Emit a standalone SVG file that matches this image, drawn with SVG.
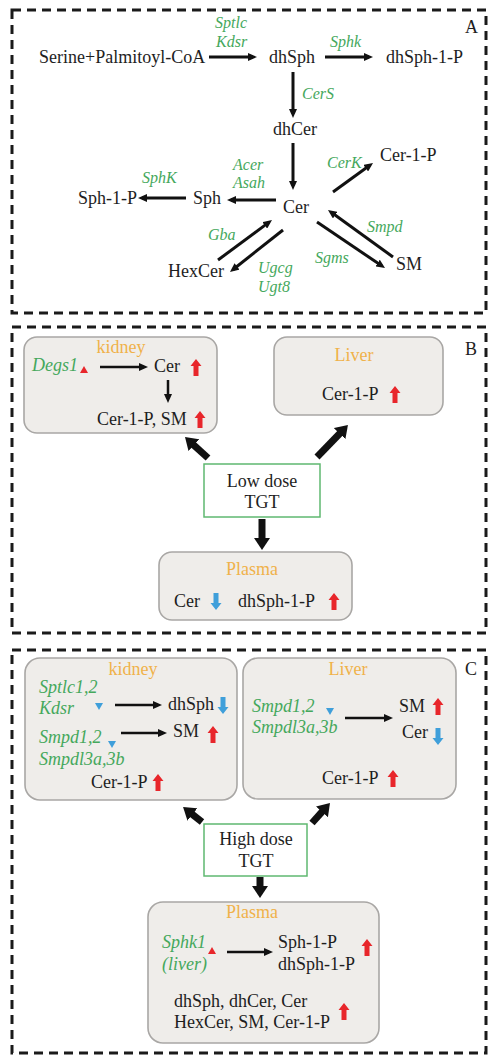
<svg xmlns="http://www.w3.org/2000/svg" width="488" height="1056" viewBox="0 0 488 1056">
  <style>
    .t { font-family: "Liberation Serif", "Times New Roman", serif; font-size: 18px; fill: #1e1e1e; }
    .m { text-anchor: middle; }
    .g { font-family: "Liberation Serif", "Times New Roman", serif; font-style: italic; font-size: 18px; fill: #45a85c; }
    .gs { font-size: 16px; }
    .o { font-family: "Liberation Serif", "Times New Roman", serif; font-size: 18px; fill: #f0b24a; text-anchor: middle; }
    .panel { fill: none; stroke: #1a1a1a; stroke-width: 3; stroke-dasharray: 9 6; }
    .box { fill: #efedea; stroke: #a9a7a5; stroke-width: 1.6; }
    .dose { fill: #ffffff; stroke: #5fb870; stroke-width: 1.5; }
    .a { stroke: #111; stroke-width: 3; fill: none; marker-end: url(#head); }
    .a2 { stroke: #111; stroke-width: 2.5; fill: none; marker-end: url(#head); }
    .thick { stroke: #111; stroke-width: 7; fill: none; marker-end: url(#bighead); }
    .up { fill: #e8262b; }
    .down { fill: #3f9fda; }
  </style>
  <defs>
    <marker id="head" markerUnits="userSpaceOnUse" markerWidth="9" markerHeight="8" refX="5" refY="4" orient="auto">
      <path d="M0,0 L9,4 L0,8 Z" fill="#111"/>
    </marker>
    <marker id="bighead" markerUnits="userSpaceOnUse" markerWidth="12" markerHeight="16" refX="2" refY="8" orient="auto">
      <path d="M0,0 L12,8 L0,16 Z" fill="#111"/>
    </marker>
    <path id="upArrow" d="M0,0 L5.5,7 L2.5,7 L2.5,17 L-2.5,17 L-2.5,7 L-5.5,7 Z"/>
    <path id="downArrow" d="M0,17 L5.5,10 L2.5,10 L2.5,0 L-2.5,0 L-2.5,10 L-5.5,10 Z"/>
  </defs>

  <rect width="488" height="1056" fill="#ffffff"/>

  <!-- panel frames -->
  <g id="frames">
    <rect class="panel" x="12" y="10" width="474" height="303"/>
    <rect class="panel" x="12" y="327" width="474" height="306"/>
    <rect class="panel" x="12" y="650" width="474" height="403"/>
  </g>

  <!-- Panel A: sphingolipid pathway -->
  <g id="panelA">
    <text class="t" x="465" y="33">A</text>
    <g id="nodeSerine"><text class="t" x="39" y="63">Serine+Palmitoyl-CoA</text></g>
    <g id="nodeDhSph"><text class="t" x="269" y="63">dhSph</text></g>
    <g id="nodeDhSph1P"><text class="t" x="386" y="63">dhSph-1-P</text></g>
    <g id="nodeDhCer"><text class="t m" x="295" y="135">dhCer</text></g>
    <g id="nodeCer"><text class="t m" x="296" y="213">Cer</text></g>
    <g id="nodeCer1P"><text class="t" x="380" y="161">Cer-1-P</text></g>
    <g id="nodeSph"><text class="t" x="193" y="204">Sph</text></g>
    <g id="nodeSph1P"><text class="t" x="78" y="204">Sph-1-P</text></g>
    <g id="nodeHexCer"><text class="t" x="168" y="277">HexCer</text></g>
    <g id="nodeSM"><text class="t" x="396" y="270">SM</text></g>
  </g>

  <g id="connectorsA">
    <line class="a" x1="209" y1="57" x2="253" y2="57"/>
    <line class="a" x1="325" y1="57" x2="369" y2="57"/>
    <line class="a" x1="293" y1="72" x2="293" y2="114"/>
    <line class="a" x1="293" y1="143" x2="293" y2="186"/>
    <line class="a" x1="333" y1="192" x2="369.8" y2="165.3"/>
    <line class="a" x1="276" y1="200" x2="231" y2="200"/>
    <line class="a" x1="186" y1="198" x2="142" y2="198"/>
    <line class="a" x1="218" y1="260" x2="268.8" y2="222.4"/>
    <line class="a" x1="283" y1="230" x2="233.1" y2="269.5"/>
    <line class="a" x1="317" y1="222" x2="381.7" y2="265.8"/>
    <line class="a" x1="393" y1="257" x2="331.2" y2="212.3"/>
    <text class="g gs" x="215" y="28">Sptlc</text>
    <text class="g gs" x="216" y="47">Kdsr</text>
    <text class="g gs" x="330" y="47">Sphk</text>
    <text class="g gs" x="302" y="99">CerS</text>
    <text class="g gs" x="327" y="168">CerK</text>
    <text class="g gs" x="233" y="170">Acer</text>
    <text class="g gs" x="233" y="188">Asah</text>
    <text class="g gs" x="142" y="183">SphK</text>
    <text class="g gs" x="208" y="240">Gba</text>
    <text class="g gs" x="258" y="273">Ugcg</text>
    <text class="g gs" x="258" y="292">Ugt8</text>
    <text class="g gs" x="367" y="232">Smpd</text>
    <text class="g gs" x="315" y="263">Sgms</text>
  </g>

  <!-- Panel B: low dose -->
  <g id="panelB">
    <text class="t" x="465" y="355">B</text>
    <g id="kidneyB">
      <rect class="box" x="24" y="337" width="193" height="96" rx="13"/>
      <text class="o" x="121" y="353">kidney</text>
      <text class="g" x="32" y="371">Degs1</text>
      <polygon class="up" points="80,373 88,373 84,366"/>
      <line class="a2" x1="100" y1="367" x2="144" y2="367"/>
      <text class="t" x="154" y="372">Cer</text>
      <use href="#upArrow" class="up" x="196" y="359"/>
      <line class="a2" x1="168" y1="380" x2="168" y2="399"/>
      <text class="t" x="97" y="425">Cer-1-P, SM</text>
      <use href="#upArrow" class="up" x="200" y="411"/>
    </g>
    <g id="liverB">
      <rect class="box" x="274" y="337" width="169" height="78" rx="13"/>
      <text class="o" x="354" y="361">Liver</text>
      <text class="t" x="322" y="400">Cer-1-P</text>
      <use href="#upArrow" class="up" x="395" y="386"/>
    </g>
    <g id="doseB">
      <rect class="dose" x="204" y="464" width="116" height="53"/>
      <text class="t m" x="262" y="487">Low dose</text>
      <text class="t m" x="262" y="508">TGT</text>
    </g>
    <g id="plasmaB">
      <rect class="box" x="159" y="552" width="193" height="68" rx="13"/>
      <text class="o" x="252" y="575">Plasma</text>
      <text class="t" x="174" y="607">Cer</text>
      <use href="#downArrow" class="down" x="216" y="593"/>
      <text class="t" x="238" y="607">dhSph-1-P</text>
      <use href="#upArrow" class="up" x="334" y="593"/>
    </g>
  </g>

  <g id="connectorsB">
    <line class="thick" x1="208" y1="458" x2="192.4" y2="443.8"/>
    <line class="thick" x1="317" y1="457" x2="341" y2="432.2"/>
    <line class="thick" x1="262" y1="519" x2="262" y2="540"/>
  </g>

  <!-- Panel C: high dose -->
  <g id="panelC">
    <text class="t" x="465" y="675">C</text>
    <g id="kidneyC">
      <rect class="box" x="25" y="658" width="212" height="142" rx="15"/>
      <text class="o" x="133" y="675">kidney</text>
      <text class="g" x="39" y="693">Sptlc1,2</text>
      <text class="g" x="39" y="714">Kdsr</text>
      <polygon class="down" points="95,703 103,703 99,710"/>
      <line class="a2" x1="115" y1="705" x2="158" y2="705"/>
      <text class="t" x="168" y="710">dhSph</text>
      <use href="#downArrow" class="down" x="223" y="697"/>
      <text class="g" x="39" y="743">Smpd1,2</text>
      <polygon class="down" points="108,741 116,741 112,748"/>
      <line class="a2" x1="121" y1="733" x2="163" y2="733"/>
      <text class="t" x="173" y="737">SM</text>
      <use href="#upArrow" class="up" x="213" y="726"/>
      <text class="g" x="39" y="765">Smpdl3a,3b</text>
      <text class="t" x="91" y="788">Cer-1-P</text>
      <use href="#upArrow" class="up" x="158" y="774"/>
    </g>
    <g id="liverC">
      <rect class="box" x="243" y="658" width="213" height="141" rx="15"/>
      <text class="o" x="348" y="675">Liver</text>
      <text class="g" x="252" y="712">Smpd1,2</text>
      <polygon class="down" points="326,708 334,708 330,715"/>
      <text class="g" x="252" y="733">Smpdl3a,3b</text>
      <line class="a2" x1="345" y1="718" x2="389" y2="718"/>
      <text class="t" x="399" y="712">SM</text>
      <use href="#upArrow" class="up" x="438" y="698"/>
      <text class="t" x="402" y="738">Cer</text>
      <use href="#downArrow" class="down" x="438" y="728"/>
      <text class="t" x="322" y="784">Cer-1-P</text>
      <use href="#upArrow" class="up" x="393" y="770"/>
    </g>
    <g id="doseC">
      <rect class="dose" x="204" y="824" width="103" height="52"/>
      <text class="t m" x="256" y="845">High dose</text>
      <text class="t m" x="256" y="867">TGT</text>
    </g>
    <g id="plasmaC">
      <rect class="box" x="148" y="902" width="231" height="141" rx="15"/>
      <text class="o" x="252" y="918">Plasma</text>
      <text class="g" x="162" y="948">Sphk1</text>
      <polygon class="up" points="208,954 216,954 212,947"/>
      <text class="g" x="162" y="970">(liver)</text>
      <line class="a2" x1="227" y1="952" x2="269" y2="952"/>
      <text class="t" x="278" y="948">Sph-1-P</text>
      <text class="t" x="278" y="970">dhSph-1-P</text>
      <use href="#upArrow" class="up" x="367" y="939"/>
      <text class="t" x="174" y="1007">dhSph, dhCer, Cer</text>
      <text class="t" x="174" y="1028">HexCer, SM, Cer-1-P</text>
      <use href="#upArrow" class="up" x="344" y="1003"/>
    </g>
  </g>

  <g id="connectorsC">
    <line class="thick" x1="202" y1="822" x2="190.9" y2="813.2"/>
    <line class="thick" x1="312" y1="823" x2="323.3" y2="810.4"/>
    <line class="thick" x1="260" y1="877" x2="260" y2="888"/>
  </g>
</svg>
